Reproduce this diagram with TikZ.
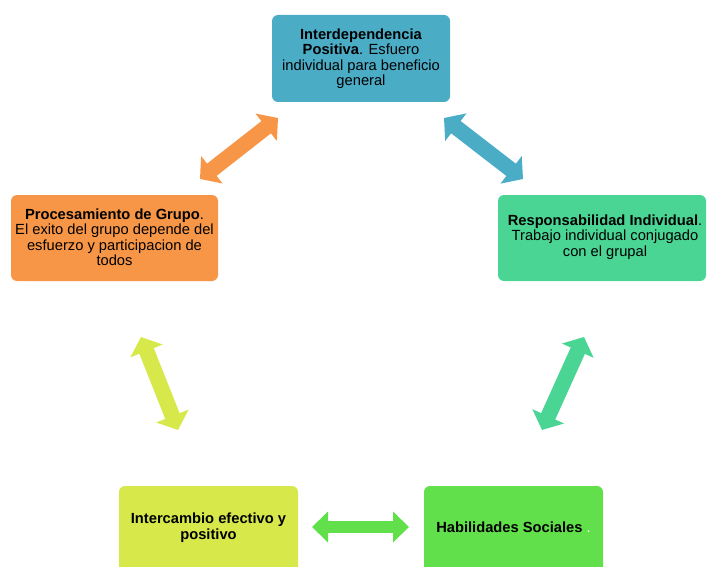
\documentclass[tikz,border=0pt]{standalone}
\usepackage{fontspec}
\setmainfont{Liberation Sans}
\usetikzlibrary{arrows.meta}
\definecolor{cTop}{HTML}{4BACC6}
\definecolor{cLeft}{HTML}{F79646}
\definecolor{cRight}{HTML}{4AD594}
\definecolor{cBL}{HTML}{D7E84A}
\definecolor{cBR}{HTML}{62E04B}
\tikzset{
  box/.style={rounded corners=6pt, inner sep=0pt, text=black},
  boxtext/.style={inner sep=0pt, align=center, text=black, font=\fontsize{14.7}{15.5}\selectfont},
  dblarrow/.style={line width=15.5pt, line cap=butt,
    {Triangle[width=34pt,length=15pt]}-{Triangle[width=34pt,length=15pt]}},
  hdblarrow/.style={line width=12pt, line cap=butt,
    {Triangle[width=30pt,length=16pt]}-{Triangle[width=30pt,length=16pt]}}
}
\begin{document}
\begin{tikzpicture}[x=1pt,y=-1pt]
\useasboundingbox (0,0) rectangle (707,567);
% boxes
\node[box, fill=cTop, minimum width=178pt, minimum height=87pt] (t) at (361,58.5) {};
\node[box, fill=cLeft, minimum width=207pt, minimum height=86pt] (l) at (114.5,238) {};
\node[box, fill=cRight, minimum width=208pt, minimum height=86pt] (r) at (602,238) {};
\node[box, fill=cBL, minimum width=179pt, minimum height=87pt] (bl) at (208.5,529.5) {};
\node[box, fill=cBR, minimum width=179pt, minimum height=87pt] (br) at (513.5,529.5) {};
% texts
\node[boxtext] (tt) at (t.center) {\textbf{Interdependencia}\\\textbf{Positiva}. Esfuero\\individual para beneficio\\general};
\node[boxtext] (lt) at (114.5,237) {\textbf{Procesamiento de Grupo}.\\El exito del grupo depende del\\esfuerzo y participacion de\\todos};
\node[boxtext] (rt) at (605,237) {\textbf{Responsabilidad Individual}.\\Trabajo individual conjugado\\con el grupal};
\node[boxtext] (blt) at (208.5,527.5) {\textbf{Intercambio efectivo y}\\\textbf{positivo}};
\node[boxtext] (brt) at (513.5,527) {\textbf{Habilidades Sociales} \textcolor{white}{.}};
% arrow end points
\coordinate (o1) at (200,179);
\coordinate (o2) at (278,118);
\coordinate (b1) at (444,118);
\coordinate (b2) at (523,179);
\coordinate (y1) at (141,337);
\coordinate (y2) at (178,430);
\coordinate (m1) at (584,337);
\coordinate (m2) at (542,430);
\coordinate (g1) at (312,527);
\coordinate (g2) at (409,527);
% arrows
\draw[dblarrow, color=cLeft] (o1) -- (o2);
\draw[dblarrow, color=cTop] (b1) -- (b2);
\draw[dblarrow, color=cBL] (y1) -- (y2);
\draw[dblarrow, color=cRight] (m1) -- (m2);
\draw[hdblarrow, color=cBR] (g1) -- (g2);
\end{tikzpicture}
\end{document}
